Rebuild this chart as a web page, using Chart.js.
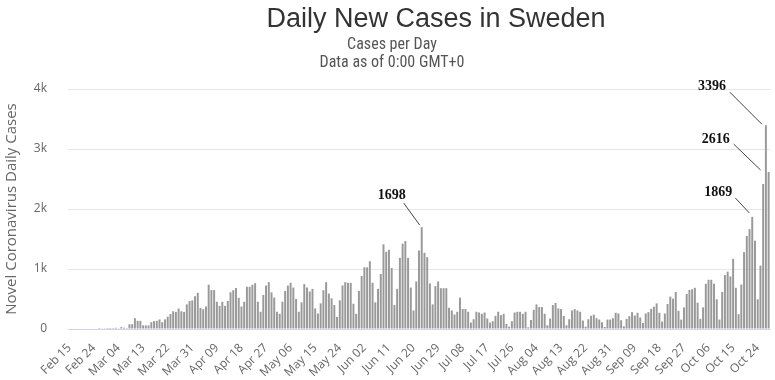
<!DOCTYPE html>
<html>
<head>
<meta charset="utf-8">
<script src="https://cdn.jsdelivr.net/npm/chart.js@4.4.0/dist/chart.umd.min.js"></script>
<style>
    body { margin: 0; background: #fff; }
    #wrap { width: 775px; height: 380px; position: relative; }
</style>
</head>
<body>
<div id="wrap"><canvas id="cases_chart"></canvas></div>
<script>
// daily new cases, Sweden, one array per month (Feb 15 .. Oct 28)
var casesFeb = [0, 0, 0, 0, 0, 0, 0, 0, 0, 0, 0, 1, 6, 4, 1];
var casesMar = [1, 2, 20, 5, 30, 20, 15, 80, 80, 180, 136, 136, 60, 60, 60, 113, 130, 136, 159, 113, 160, 205, 250, 295, 285, 340, 295, 285, 410, 466, 477];
var casesApr = [545, 602, 352, 330, 375, 738, 648, 648, 454, 386, 454, 386, 466, 613, 648, 682, 520, 375, 454, 704, 704, 736, 764, 455, 287, 568, 725, 781, 612, 523];
var casesMay = [287, 253, 455, 635, 725, 770, 691, 500, 287, 444, 747, 691, 624, 669, 343, 258, 427, 646, 781, 590, 511, 399, 202, 478, 725, 781, 770, 770, 421, 253, 635];
var casesJun = [882, 1028, 1028, 1130, 770, 444, 669, 916, 1411, 1287, 1321, 1017, 399, 669, 1186, 1422, 1467, 1186, 691, 309, 792, 1310, 1698, 1270, 1197, 759, 410, 714, 792, 680];
var casesJul = [680, 680, 354, 309, 242, 287, 523, 332, 332, 287, 107, 163, 287, 275, 253, 275, 174, 107, 129, 219, 287, 230, 253, 84, 39, 129, 275, 287, 287, 253, 287];
var casesAug = [28, 152, 320, 410, 365, 365, 253, 62, 174, 399, 433, 343, 332, 219, 62, 163, 309, 332, 309, 287, 141, 39, 163, 220, 240, 180, 157, 112, 34, 157, 157];
var casesSep = [180, 270, 259, 146, 45, 169, 214, 281, 225, 270, 191, 101, 259, 281, 337, 371, 427, 270, 124, 259, 416, 540, 506, 618, 303, 157, 360, 584, 652, 663];
var casesOct = [686, 438, 169, 360, 753, 821, 821, 753, 495, 157, 618, 899, 955, 877, 1169, 686, 247, 742, 1281, 1551, 1664, 1869, 1472, 495, 1057, 2417, 3396, 2616];

var dailyCases = [].concat(casesFeb, casesMar, casesApr, casesMay, casesJun, casesJul, casesAug, casesSep, casesOct);

var yTicks = [0, 1000, 2000, 3000, 4000];
var yTickLabels = ['0', '1k', '2k', '3k', '4k'];
var calloutValues = [1698, 1869, 2616, 3396];

var monthNames = ['Jan', 'Feb', 'Mar', 'Apr', 'May', 'Jun', 'Jul', 'Aug', 'Sep', 'Oct', 'Nov', 'Dec'];
var startDay = Date.UTC(2020, 1, 15);
var dayLabels = [];
for (var i = 0; i < dailyCases.length; i++) {
    var d = new Date(startDay + i * 86400000);
    dayLabels.push(monthNames[d.getUTCMonth()] + ' ' + String(d.getUTCDate()).padStart(2, '0'));
}

// label/leader offsets relative to the bar top, same order as calloutValues
var calloutOffsets = [
    { dx: -30, dy: -32, lx: -18, ly: -24, ex: -2, ey: -2 },
    { dx: -34, dy: -24, lx: -17, ly: -19, ex: -3, ey: -4 },
    { dx: -53, dy: -33, lx: -35, ly: -28, ex: -8, ey: -2 },
    { dx: -54, dy: -39, lx: -36, ly: -33, ex: -4, ey: -1 }
];

var headerPlugin = {
    id: 'header',
    afterDraw: function (chart) {
        var ctx = chart.ctx;
        ctx.save();
        ctx.textAlign = 'center';
        ctx.textBaseline = 'middle';
        ctx.fillStyle = '#333333';
        ctx.font = '27px "Liberation Sans", Arial, sans-serif';
        ctx.fillText('Daily New Cases in Sweden', 436, 20);
        ctx.fillStyle = '#555555';
        ctx.font = '16px "Liberation Sans Narrow", "Roboto Condensed", "Liberation Sans", sans-serif';
        ctx.fillText('Cases per Day', 392, 45);
        ctx.fillText('Data as of 0:00 GMT+0', 392, 63);
        ctx.restore();
    }
};

var calloutPlugin = {
    id: 'callouts',
    afterDatasetsDraw: function (chart) {
        var ctx = chart.ctx;
        var meta = chart.getDatasetMeta(0);
        ctx.save();
        ctx.font = 'bold 14px "Liberation Serif", "Times New Roman", serif';
        ctx.textAlign = 'center';
        ctx.textBaseline = 'middle';
        calloutValues.forEach(function (v, n) {
            var bar = meta.data[dailyCases.indexOf(v)];
            var o = calloutOffsets[n];
            ctx.strokeStyle = '#444444';
            ctx.lineWidth = 1;
            ctx.beginPath();
            ctx.moveTo(bar.x + o.lx, bar.y + o.ly);
            ctx.lineTo(bar.x + o.ex, bar.y + o.ey);
            ctx.stroke();
            ctx.fillStyle = '#111111';
            ctx.fillText(String(v), bar.x + o.dx, bar.y + o.dy);
        });
        ctx.restore();
    }
};

var cases_ctx = document.getElementById('cases_chart').getContext('2d');
var cases_chart = new Chart(cases_ctx, {
    type: 'bar',
    data: {
        labels: dayLabels,
        datasets: [{
            label: 'Daily Cases',
            data: dailyCases,
            backgroundColor: '#999999',
            borderWidth: 0,
            categoryPercentage: 0.9,
            barPercentage: 0.8
        }]
    },
    options: {
        responsive: true,
        maintainAspectRatio: false,
        animation: false,
        layout: {
            padding: { top: 89, right: 5, left: 0, bottom: 0 }
        },
        plugins: {
            legend: { display: false },
            tooltip: { enabled: false }
        },
        scales: {
            y: {
                min: 0,
                max: 4000,
                afterFit: function (axis) { axis.width = 68; },
                afterBuildTicks: function (axis) {
                    axis.ticks = yTicks.map(function (v) { return { value: v }; });
                },
                border: { display: false },
                grid: { color: '#e6e6e6', drawTicks: false },
                ticks: {
                    padding: 21,
                    color: '#666666',
                    font: { family: '"Open Sans", "Liberation Sans", sans-serif', size: 12 },
                    callback: function (value) {
                        return yTickLabels[yTicks.indexOf(value)];
                    }
                },
                title: {
                    display: true,
                    text: 'Novel Coronavirus Daily Cases',
                    color: '#666666',
                    padding: { top: 3, bottom: 0 },
                    font: { family: '"Open Sans", "Liberation Sans", sans-serif', size: 15 }
                }
            },
            x: {
                afterFit: function (axis) { axis.height = 51; },
                border: { display: true, color: '#ccd6eb' },
                grid: { display: false },
                ticks: {
                    autoSkip: false,
                    minRotation: 45,
                    maxRotation: 45,
                    padding: 4,
                    color: '#666666',
                    font: { family: '"Open Sans", "Liberation Sans", sans-serif', size: 12 },
                    callback: function (value, index) {
                        return index % 9 === 0 ? dayLabels[index] : null;
                    }
                }
            }
        }
    },
    plugins: [headerPlugin, calloutPlugin]
});
</script>
</body>
</html>
